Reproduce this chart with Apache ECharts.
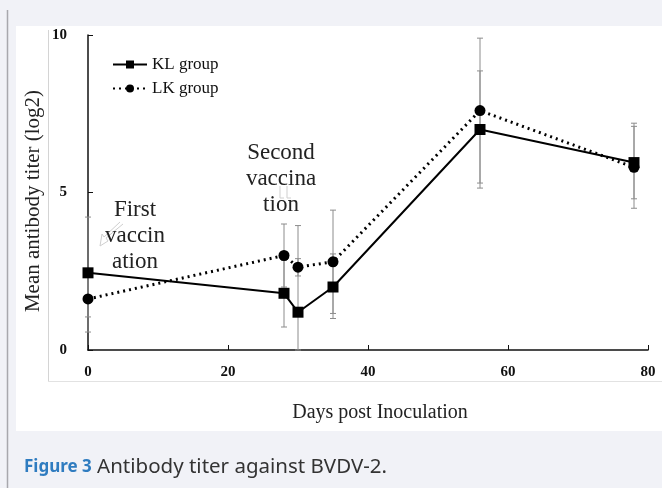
<!DOCTYPE html>
<html>
<head>
<meta charset="utf-8">
<script src="https://cdn.jsdelivr.net/npm/echarts@6/dist/echarts.min.js"></script>
<style>
html,body{margin:0;padding:0;background:#f1f2f7;}
#c{width:662px;height:488px;}
</style>
</head>
<body>
<div id="c"></div>
<script>
// Data
var days   = [0, 28, 30, 35, 56, 78];
var klMean = [2.45, 1.8, 1.2, 2.0, 7.0, 5.95];
var lkMean = [1.62, 3.0, 2.63, 2.8, 7.6, 5.8];
var klHigh = [4.22, 2.85, 3.95, 3.05, 8.86, 7.2];
var klLow  = [0.57, 0.73, 0.0, 1.0, 5.14, 4.8];
var lkHigh = [2.32, 4.0, 2.9, 4.44, 9.9, 7.1];
var lkLow  = [1.05, 2.0, 2.35, 1.16, 5.3, 4.5];
var yTicks = [0, 5, 10];
var xTicks = [0, 20, 40, 60, 80];

var serif = '"Liberation Serif","Times New Roman",serif';

function pairs(xs, ys){ return xs.map(function(x,i){ return [x, ys[i]]; }); }
function triples(xs, lo, hi){ return xs.map(function(x,i){ return [x, lo[i], hi[i]]; }); }

function renderErr(params, api){
  var x = api.value(0), lo = api.value(1), hi = api.value(2);
  var p1 = api.coord([x, hi]), p2 = api.coord([x, lo]);
  var w = 3;
  var st = {stroke:'#8c8c8c', lineWidth:1};
  return {type:'group', children:[
    {type:'line', shape:{x1:p1[0], y1:p1[1], x2:p2[0], y2:p2[1]}, style:st},
    {type:'line', shape:{x1:p1[0]-w, y1:p1[1], x2:p1[0]+w, y2:p1[1]}, style:st},
    {type:'line', shape:{x1:p2[0]-w, y1:p2[1], x2:p2[0]+w, y2:p2[1]}, style:st}
  ]};
}

var chart = echarts.init(document.getElementById('c'), null, {renderer:'canvas'});
chart.setOption({
  backgroundColor:'#f1f2f7',
  animation:false,
  grid:{left:88, right:14, top:35, bottom:138, containLabel:false},
  legend:{
    orient:'vertical', left:112, top:56, padding:0, itemWidth:34, itemHeight:10, itemGap:7,
    textStyle:{fontFamily:serif, fontSize:17, color:'#111'},
    data:['KL group','LK group']
  },
  xAxis:{
    type:'value', min:0, max:80, interval:20,
    axisLine:{lineStyle:{color:'#111', width:1.5}},
    axisTick:{inside:true, length:5, lineStyle:{color:'#111'}},
    axisLabel:{fontFamily:serif, fontWeight:'bold', fontSize:15, color:'#111', margin:15,
      formatter:function(v){ return xTicks.indexOf(v)>=0 ? String(v) : ''; }},
    splitLine:{show:false}
  },
  yAxis:{
    type:'value', min:0, max:10, interval:5,
    axisLine:{show:true, lineStyle:{color:'#111', width:1.5}},
    axisTick:{show:true, inside:true, length:5, lineStyle:{color:'#111'}},
    axisLabel:{fontFamily:serif, fontWeight:'bold', fontSize:15, color:'#111', margin:21,
      formatter:function(v){ return yTicks.indexOf(v)>=0 ? String(v) : ''; }},
    splitLine:{show:false}
  },
  graphic:[
    {type:'rect', z:-10, shape:{x:16, y:26, width:646, height:405}, style:{fill:'#ffffff'}},
    {type:'line', z:-9, shape:{x1:7.5, y1:10, x2:7.5, y2:488}, style:{stroke:'#a8a8ad', lineWidth:1.5}},
    {type:'line', z:-9, shape:{x1:48.5, y1:30, x2:48.5, y2:381}, style:{stroke:'#d4d4d4', lineWidth:1}},
    {type:'line', z:-9, shape:{x1:48, y1:381.5, x2:662, y2:381.5}, style:{stroke:'#e2e2e2', lineWidth:1}},
    {type:'text', x:33, y:201, rotation:Math.PI/2,
      style:{text:'Mean antibody titer (log2)', fontFamily:serif, fontSize:21, fill:'#222',
        textAlign:'center', textVerticalAlign:'middle'}},
    {type:'text', x:380, y:413,
      style:{text:'Days post Inoculation', fontFamily:serif, fontSize:20, fill:'#222',
        textAlign:'center', textVerticalAlign:'middle'}},
    {type:'text', x:135, y:236,
      style:{text:'First\nvaccin\nation', fontFamily:serif, fontSize:23, lineHeight:26, fill:'#222',
        textAlign:'center', textVerticalAlign:'middle'}},
    {type:'text', x:281, y:179,
      style:{text:'Second\nvaccina\ntion', fontFamily:serif, fontSize:23, lineHeight:26, fill:'#222',
        textAlign:'center', textVerticalAlign:'middle'}},
    {type:'polyline', z:-5, shape:{points:[[123,224],[106,238],[108,241],[100,246],[102,234],[104,237],[120,222]]},
      style:{stroke:'#cfcfcf', fill:null, lineWidth:1}},
    {type:'polyline', z:-5, shape:{points:[[280,186],[280,198],[284,198]]}, style:{stroke:'#cfcfcf', fill:null, lineWidth:1}},
    {type:'polyline', z:-5, shape:{points:[[287,186],[287,198],[291,198]]}, style:{stroke:'#cfcfcf', fill:null, lineWidth:1}},
    {type:'text', x:24, y:467,
      style:{text:'{a|Figure 3} Antibody titer against BVDV-2.', fontFamily:'"Noto Sans",sans-serif', fontSize:20.5, fill:'#333',
        textVerticalAlign:'middle',
        rich:{a:{fontFamily:'"Noto Sans",sans-serif', fontSize:17, fontWeight:'bold', fill:'#2f7cc0'}}}}
  ],
  series:[
    {type:'custom', name:'KL err', renderItem:renderErr, data:triples(days, klLow, klHigh), z:1, silent:true},
    {type:'custom', name:'LK err', renderItem:renderErr, data:triples(days, lkLow, lkHigh), z:1, silent:true},
    {type:'line', name:'KL group', data:pairs(days, klMean), symbol:'rect', symbolSize:11,
      itemStyle:{color:'#000'}, lineStyle:{color:'#000', width:2}, z:3},
    {type:'line', name:'LK group', data:pairs(days, lkMean), symbol:'circle', symbolSize:11,
      itemStyle:{color:'#000'}, lineStyle:{color:'#000', width:3, type:[2,4]}, z:4}
  ]
});
</script>
</body>
</html>
